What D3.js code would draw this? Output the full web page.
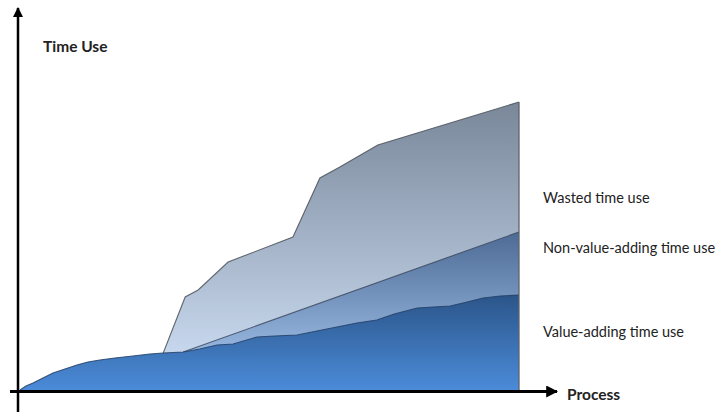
<!DOCTYPE html>
<html>
<head>
<meta charset="utf-8">
<script src="https://cdn.jsdelivr.net/npm/d3@7"></script>
<style>
  body { margin: 0; background: #fff; }
  svg { display: block; }
  .lbl { font-family: Lato, "Open Sans", sans-serif; fill: #222; }
</style>
</head>
<body>
<div id="chart"></div>
<script>

// process position (0-100) and cumulative time use (0-300)
var valueAdding = [
  [0, 0], [1.2, 4], [2.6, 7], [4.6, 12], [6.6, 17], [9, 21], [11.4, 25], [13.6, 28],
  [16, 30], [19, 32], [22.6, 34], [26, 36], [28.7, 37], [32.7, 38], [36, 41], [39.5, 45],
  [42.7, 46], [47.5, 53], [51, 54], [55.5, 55], [59.5, 59], [63.5, 63], [67.5, 67],
  [71.5, 70], [75, 76], [79.6, 82], [82.8, 83], [86.2, 84], [89.6, 88], [92.8, 92],
  [96.2, 94], [100, 95]
];
var nonValueAdding = [[32.7, 38], [100, 158]];
var wasted = [
  [28.7, 37], [33.1, 93], [35.7, 100], [41.7, 128], [54.7, 153], [60.1, 212],
  [64.1, 223], [71.7, 245], [100, 288]
];
var seriesLabels = ["Wasted time use", "Non-value-adding time use", "Value-adding time use"];
var labelValues = [191, 141, 57];
var axisTitles = ["Time Use", "Process"];

var width = 718, height = 412;

var svg = d3.select("#chart").append("svg")
    .attr("width", width)
    .attr("height", height);

var x = d3.scaleLinear().domain([0, 100]).range([20, 519]);
var y = d3.scaleLinear().domain([0, 300]).range([390, 90]);

var defs = svg.append("defs");

function grad(id, y1, y2, c1, c2) {
  var g = defs.append("linearGradient")
      .attr("id", id)
      .attr("gradientUnits", "userSpaceOnUse")
      .attr("x1", 0).attr("x2", 0)
      .attr("y1", y1).attr("y2", y2);
  g.append("stop").attr("offset", 0).attr("stop-color", c1);
  g.append("stop").attr("offset", 1).attr("stop-color", c2);
}
grad("gWaste", y(288), y(30), "#798799", "#c9d9ef");
grad("gNva", y(158), y(35), "#4d6b94", "#98b8e2");
grad("gVa", y(95), y(0), "#2b5589", "#4b8bd9");

var area = d3.area()
    .x(function(d) { return x(d[0]); })
    .y0(y(0))
    .y1(function(d) { return y(d[1]); });

var line = d3.line()
    .x(function(d) { return x(d[0]); })
    .y(function(d) { return y(d[1]); });

var layers = [
  { data: wasted, fill: "url(#gWaste)", stroke: "#4a5158" },
  { data: nonValueAdding, fill: "url(#gNva)", stroke: "#3b4a5e" },
  { data: valueAdding, fill: "url(#gVa)", stroke: "#233f66" }
];

layers.forEach(function(l) {
  svg.append("path")
      .attr("d", area(l.data))
      .attr("fill", l.fill);
  svg.append("path")
      .attr("d", line(l.data))
      .attr("fill", "none")
      .attr("stroke", l.stroke)
      .attr("stroke-width", 1.1)
      .attr("stroke-opacity", 0.85);
});

// right edge
svg.append("line")
    .attr("x1", x(100)).attr("x2", x(100))
    .attr("y1", y(288)).attr("y2", y(0))
    .attr("stroke", "#5f656c")
    .attr("stroke-width", 1.3);

// axes with arrows
defs.append("marker")
    .attr("id", "arrow")
    .attr("viewBox", "0 0 10 10")
    .attr("refX", 9).attr("refY", 5)
    .attr("markerWidth", 4).attr("markerHeight", 4)
    .attr("markerUnits", "strokeWidth")
    .attr("orient", "auto")
  .append("path")
    .attr("d", "M0,0 L10,5 L0,10 Z")
    .attr("fill", "#000");

svg.append("line")
    .attr("x1", 18).attr("x2", 18)
    .attr("y1", 412).attr("y2", 8)
    .attr("stroke", "#000")
    .attr("stroke-width", 2.5)
    .attr("marker-end", "url(#arrow)");

svg.append("line")
    .attr("x1", 10).attr("x2", 557)
    .attr("y1", 391.5).attr("y2", 391.5)
    .attr("stroke", "#000")
    .attr("stroke-width", 3)
    .attr("marker-end", "url(#arrow)");

svg.append("text")
    .attr("class", "lbl")
    .attr("x", 43).attr("y", 52)
    .style("font-size", "15.5px")
    .style("font-weight", "bold")
    .text(axisTitles[0]);

svg.append("text")
    .attr("class", "lbl")
    .attr("x", 567).attr("y", 400)
    .style("font-size", "15.5px")
    .style("font-weight", "bold")
    .text(axisTitles[1]);

svg.selectAll(".series-lbl")
    .data(seriesLabels)
  .enter().append("text")
    .attr("class", "lbl series-lbl")
    .attr("x", 543)
    .attr("y", function(d, i) { return y(labelValues[i]) + 4; })
    .style("font-size", "14.5px")
    .text(function(d) { return d; });

</script>
</body>
</html>
